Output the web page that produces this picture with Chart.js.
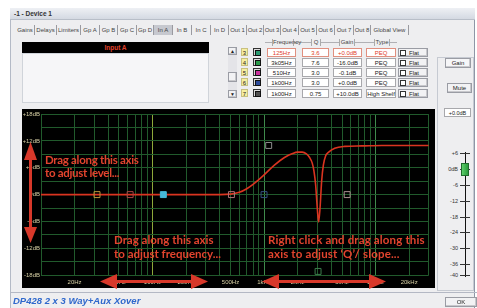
<!DOCTYPE html>
<html>
<head>
<meta charset="utf-8">
<script src="https://cdn.jsdelivr.net/npm/chart.js@4.4.1/dist/chart.umd.min.js"></script>
<style>
  body { margin: 0; width: 477px; height: 308px; overflow: hidden; background: #fff; position: relative;
         font-family: "Liberation Sans", Arial, sans-serif; font-size: 6px; color: #222; }
  .a { position: absolute; box-sizing: border-box; }
  .win { left: 10px; top: 8px; width: 465px; height: 300px; background: #eeeef0; border-left: 1px solid #b4bac6; border-right: 1px solid #8e96a6; }
  .title { left: 10px; top: 8px; width: 465px; height: 12px; background: linear-gradient(#eef0f4, #d4d9e2); border-bottom: 1px solid #b8bec8;
           font-weight: bold; font-size: 6.5px; line-height: 12px; padding-left: 4px; color: #333; }
  .tab { top: 25px; height: 10px; line-height: 10px; text-align: center; border-right: 1px solid #9a9aa0; color: #444; white-space: nowrap; }
  .tab.sel { background: #c6c8cf; }
  .box { height: 9px; line-height: 8px; text-align: center; background: #fff; border: 1px solid #a8a8ac; white-space: nowrap; }
  .box.red { border-color: #e09080; color: #e0402c; }
  .num { left: 241px; width: 7px; height: 8px; line-height: 8px; text-align: center; background: #f6eea0; border: 1px solid #c8c080; }
  .ico { left: 253px; width: 8px; height: 8px; border: 1px solid #333; background: #ddd; }
  .ico i { position: absolute; left: 1px; top: 1px; width: 4px; height: 4px; border: 1px solid #111; }
  .hdr { top: 39px; height: 7px; line-height: 7px; text-align: center; color: #444; background: #eeeef0; border-left: 1px solid #aaa; border-right: 1px solid #aaa; }
  .btn { text-align: center; background: #f2f2f4; border: 1px solid #9a9ca4; box-shadow: inset -1px -1px 0 #c8c8cc; }
  .note { color: #e2442e; font-family: Lato, "Open Sans", sans-serif; font-weight: bold; font-size: 11.5px; line-height: 14px; white-space: nowrap; letter-spacing: -0.3px; }
  .fad { width: 22px; text-align: right; font-size: 5.5px; line-height: 6px; color: #333; }
</style>
</head>
<body>
<div class="a win"></div>
<div class="a title">-1 - Device 1</div>

<!-- tab strip -->
<div class="a tab" style="left:16px;width:19px">Gains</div>
<div class="a tab" style="left:35px;width:22px">Delays</div>
<div class="a tab" style="left:57px;width:24px">Limiters</div>
<div class="a tab" style="left:81px;width:19px">Gp A</div>
<div class="a tab" style="left:100px;width:18px">Gp B</div>
<div class="a tab" style="left:118px;width:19px">Gp C</div>
<div class="a tab" style="left:137px;width:17px">Gp D</div>
<div class="a tab sel" style="left:154px;width:19px">In A</div>
<div class="a tab" style="left:173px;width:19px">In B</div>
<div class="a tab" style="left:192px;width:19px">In C</div>
<div class="a tab" style="left:211px;width:18px">In D</div>
<div class="a tab" style="left:229px;width:18px">Out 1</div>
<div class="a tab" style="left:247px;width:17px">Out 2</div>
<div class="a tab" style="left:264px;width:17px">Out 3</div>
<div class="a tab" style="left:281px;width:18px">Out 4</div>
<div class="a tab" style="left:299px;width:18px">Out 5</div>
<div class="a tab" style="left:317px;width:18px">Out 6</div>
<div class="a tab" style="left:335px;width:19px">Out 7</div>
<div class="a tab" style="left:354px;width:17px">Out 8</div>
<div class="a tab" style="left:371px;width:38px">Global View</div>

<!-- input header + list -->
<div class="a" style="left:22px;top:42px;width:187px;height:11px;background:#000;color:#e0402c;font-weight:bold;font-size:6.5px;line-height:11px;text-align:center">Input A</div>
<div class="a" style="left:22px;top:53px;width:187px;height:50px;background:#f6f6f8;border:1px solid #d0d4da"></div>

<!-- scroll bar -->
<div class="a" style="left:228px;top:47px;width:9px;height:51px;background:#e4e4e8"></div>
<div class="a btn" style="left:228px;top:47px;width:9px;height:8px;font-size:5px;line-height:7px">&#9650;</div>
<div class="a btn" style="left:228px;top:72px;width:9px;height:10px"></div>
<div class="a btn" style="left:228px;top:90px;width:9px;height:8px;font-size:5px;line-height:7px">&#9660;</div>

<!-- band table -->
<div class="a" style="left:265px;top:42px;width:132px;height:1px;background:#b0b0b4"></div>
<div class="a hdr" style="left:272px;width:22px">Frequency</div>
<div class="a hdr" style="left:311px;width:10px">Q</div>
<div class="a hdr" style="left:339px;width:16px">Gain</div>
<div class="a hdr" style="left:374px;width:16px">Type</div>
<div id="bands"></div>

<!-- gain panel -->
<div class="a" style="left:437px;top:57px;width:37px;height:234px;border:1px solid #c6cad2"></div>
<div class="a btn" style="left:445px;top:58px;width:26px;height:10px;line-height:9px;background:#f6f6f8">Gain</div>
<div class="a btn" style="left:447px;top:83px;width:25px;height:10px;line-height:9px">Mute</div>
<div class="a box" style="left:444px;top:108px;width:27px;height:9px;font-size:5.5px">+0.0dB</div>
<div class="a" style="left:465px;top:152px;width:1px;height:125px;background:#111"></div>
<div id="fader"></div>
<div class="a" style="left:461px;top:163px;width:8px;height:13px;background:linear-gradient(90deg,#5ccf6a,#2a9a3c);border:1px solid #1f6a2c"></div>

<!-- EQ graph -->
<div class="a" style="left:22px;top:109px;width:413px;height:179px;background:#000">
  <div style="position:absolute;left:1px;top:0;width:411px;height:179px"><canvas id="eqGraph"></canvas></div>
</div>

<!-- overlay arrows -->
<svg class="a" style="left:0;top:0" width="477" height="308">
  <g fill="#d8382a" stroke="#d8382a">
    <line x1="30.5" y1="156" x2="30.5" y2="231" stroke-width="3"/>
    <polygon points="30.5,142 24,160 37,160" stroke="none"/>
    <polygon points="30.5,243 24,227 37,227" stroke="none"/>
    <line x1="112" y1="281.5" x2="196" y2="281.5" stroke-width="3"/>
    <polygon points="100,281.5 117,274 117,289" stroke="none"/>
    <polygon points="208,281.5 191,274 191,289" stroke="none"/>
    <line x1="274" y1="281.5" x2="374" y2="281.5" stroke-width="3"/>
    <polygon points="262,281.5 279,274 279,289" stroke="none"/>
    <polygon points="386,281.5 369,274 369,289" stroke="none"/>
  </g>
</svg>

<div class="a note" style="left:45px;top:153px;line-height:13px">Drag along this axis<br>to adjust level...</div>
<div class="a note" style="left:114px;top:233px;letter-spacing:0">Drag along this axis<br>to adjust frequency...</div>
<div class="a note" style="left:268px;top:233px;letter-spacing:0.15px">Right click and drag along this<br>axis to adjust ‘Q’/ slope...</div>

<!-- footer -->
<div class="a" style="left:10px;top:292px;width:467px;height:1px;background:#b4b8c4"></div>
<div class="a" style="left:13px;top:295px;color:#2f68cc;font-weight:bold;font-style:italic;font-size:9.5px;line-height:11px;white-space:nowrap">DP428 2 x 3 Way+Aux Xover</div>
<div class="a btn" style="left:445px;top:297px;width:32px;height:10px;line-height:9px">OK</div>

<script>
// Band table
const bandNumbers = ["3", "4", "5", "6", "7"];
const bandFreqs = ["125Hz", "3k05Hz", "510Hz", "1k00Hz", "1k00Hz"];
const bandQs = ["3.6", "7.6", "3.0", "3.0", "0.75"];
const bandGains = ["+0.0dB", "-16.0dB", "-0.1dB", "+0.0dB", "+10.0dB"];
const bandTypes = ["PEQ", "PEQ", "PEQ", "PEQ", "High Shelf"];
const bandIcons = ["#2a9a70", "#2a9a4a", "#c8309c", "#2c4a9a", "#505050"];

// Fader scale
const faderLabels = ["+6", "0dB", "-6", "-12", "-18", "-24", "-30", "-36", "-40"];
const faderPos = [153, 169, 185, 201, 217, 232, 248, 264, 275];

// EQ response curve
const curveFreq = [10, 200, 400, 500, 600, 700, 818, 1000, 1238, 1524, 1800, 2000, 2200, 2400, 2560, 2700, 2800, 2900, 3000, 3085, 3176, 3283, 3401, 3568, 3749, 4300, 5290, 7480, 11320, 30000];
const curveGain = [0, 0, 0, 0.1, 0.5, 1.3, 2.5, 4.4, 6.6, 8.3, 9.2, 9.5, 9.5, 9.1, 8.3, 7.1, 5.3, 2.2, -3.0, -6.1, -3.0, 3.0, 6.6, 8.7, 9.4, 10.4, 10.8, 10.9, 11.0, 11.0];

// Filter handles
const markerFreq = [31.8, 63, 125, 510, 1000, 1100, 3050, 5560];
const markerGain = [0, 0, 0, 0, 0, 11, -17.2, 0];
const markerColour = ["#b89438", "#a84444", "#46b8d8", "#b07078", "#34507e", "#8c8c8c", "#3c7c4c", "#a89090"];
const markerFilled = [false, false, true, false, false, false, false, false];

// Axes
const freqTicks = [10, 20, 30, 40, 50, 60, 70, 80, 90, 100, 200, 300, 400, 500, 600, 700, 800, 900, 1000, 2000, 3000, 4000, 5000, 6000, 7000, 8000, 9000, 10000, 20000, 30000];
const freqLabelValues = [20, 50, 100, 200, 500, 1000, 2000, 5000, 10000, 20000];
const freqLabelTexts = ["20Hz", "50Hz", "100Hz", "200Hz", "500Hz", "1kHz", "2kHz", "5kHz", "10kHz", "20kHz"];
const dbLabelValues = [18, 12, 6, 0, -6, -12, -18];
const dbLabelTexts = ["+18dB", "+12dB", "+6dB", "0dB", "-6dB", "-12dB", "-18dB"];

// build table rows
const rowTops = [48, 58, 68, 78, 89];
let html = "";
bandNumbers.forEach((n, i) => {
  const t = rowTops[i];
  const red = i === 0 ? " red" : "";
  html += `<div class="a num" style="top:${t}px">${n}</div>`;
  html += `<div class="a ico" style="top:${t}px"><i style="background:${bandIcons[i]}"></i></div>`;
  html += `<div class="a box${red}" style="left:267px;top:${t}px;width:29px">${bandFreqs[i]}</div>`;
  html += `<div class="a box${red}" style="left:302px;top:${t}px;width:27px">${bandQs[i]}</div>`;
  html += `<div class="a box${red}" style="left:333px;top:${t}px;width:29px">${bandGains[i]}</div>`;
  html += `<div class="a box${red}" style="left:366px;top:${t}px;width:30px">${bandTypes[i]}</div>`;
  html += `<div class="a btn" style="left:398px;top:${t}px;width:30px;height:9px;line-height:8px;text-align:left;padding-left:10px">Flat</div>`;
  html += `<div class="a" style="left:400px;top:${t + 2}px;width:6px;height:6px;background:#fff;border:1px solid #333"></div>`;
});
document.getElementById("bands").innerHTML = html;

// fader ticks
let fhtml = "";
faderLabels.forEach((lab, i) => {
  const y = faderPos[i];
  fhtml += `<div class="a fad" style="left:436px;top:${y - 3}px">${lab}</div>`;
  fhtml += `<div class="a" style="left:460px;top:${y}px;width:10px;height:1px;background:#333"></div>`;
});
document.getElementById("fader").innerHTML = fhtml;

// grid colour: decades brighter, 100Hz line yellow-green
function gridColour(v) {
  if (v === 100) return "#8ea83a";
  if (v === 1000 || v === 10000) return "#3f8a4c";
  return "#215a2c";
}

const ctx = document.getElementById("eqGraph").getContext("2d");

const eqGraph = new Chart(ctx, {
  type: "scatter",
  data: {
    datasets: [
      {
        label: "handles",
        data: markerFreq.map((f, i) => ({ x: f, y: markerGain[i] })),
        pointStyle: "rect",
        pointRadius: 4.2,
        borderWidth: 1,
        pointBorderColor: markerColour,
        pointBackgroundColor: markerColour.map((c, i) => (markerFilled[i] ? c : "rgba(0,0,0,0)")),
        showLine: false,
        order: 0,
      },
      {
        label: "response",
        data: curveFreq.map((f, i) => ({ x: f, y: curveGain[i] })),
        showLine: true,
        borderColor: "#da3420",
        borderWidth: 1.6,
        pointRadius: 0,
        cubicInterpolationMode: "monotone",
        order: 1,
      },
    ],
  },
  options: {
    animation: false,
    responsive: true,
    maintainAspectRatio: false,
    layout: { padding: { left: 0, right: 4, top: 4, bottom: 0 } },
    scales: {
      x: {
        type: "logarithmic",
        min: 10,
        max: 30000,
        afterBuildTicks: (scale) => {
          scale.ticks = freqTicks.map((v) => ({ value: v }));
        },
        afterFit: (scale) => {
          scale.height = 13;
        },
        border: { display: false },
        grid: { color: (c) => gridColour(c.tick ? c.tick.value : 0), drawTicks: false },
        ticks: {
          autoSkip: false,
          maxRotation: 0,
          padding: 4,
          color: "#d6cfa4",
          font: { size: 6, family: "Liberation Sans" },
          callback: (v) => {
            const k = freqLabelValues.indexOf(v);
            return k >= 0 ? freqLabelTexts[k] : "";
          },
        },
      },
      y: {
        min: -18,
        max: 18,
        afterFit: (scale) => {
          scale.width = 18;
        },
        border: { display: false },
        grid: { color: "#215a2c", drawTicks: false },
        ticks: {
          stepSize: 3,
          autoSkip: false,
          padding: 1,
          color: "#d6cfa4",
          font: { size: 6, family: "Liberation Sans" },
          callback: (v) => {
            const k = dbLabelValues.indexOf(v);
            return k >= 0 ? dbLabelTexts[k] : "";
          },
        },
      },
    },
    plugins: {
      legend: { display: false },
      tooltip: { enabled: false },
    },
  },
});
</script>
</body>
</html>
